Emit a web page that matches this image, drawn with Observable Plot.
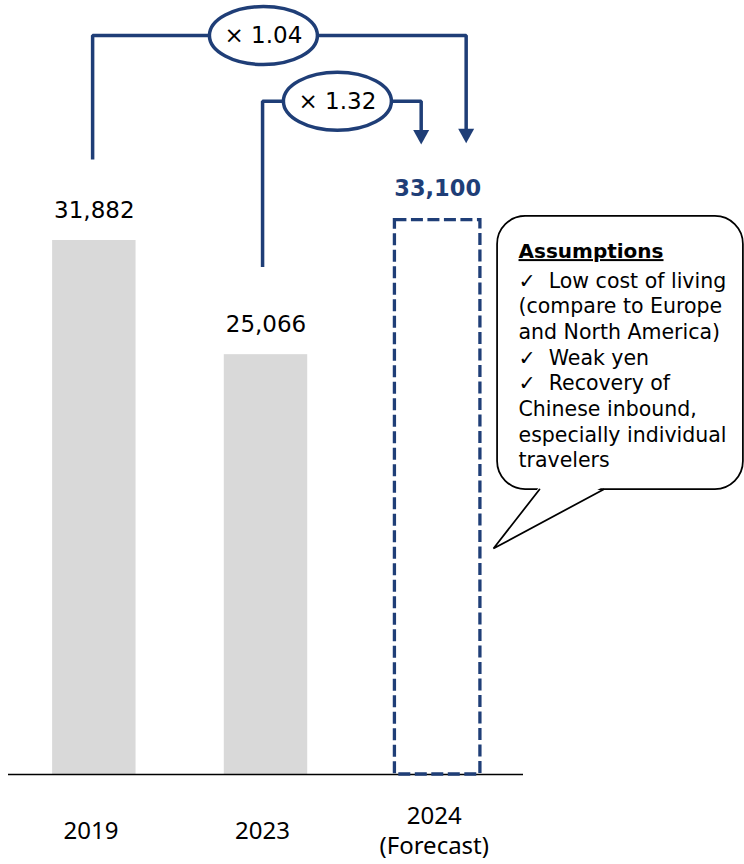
<!DOCTYPE html>
<html>
<head>
<meta charset="utf-8">
<script src="https://cdn.jsdelivr.net/npm/d3@7"></script>
<script src="https://cdn.jsdelivr.net/npm/@observablehq/plot@0.6"></script>
<style>
  html, body { margin: 0; padding: 0; background: #fff; }
  #chart svg { display: block; }
</style>
</head>
<body>
<div id="chart"></div>
<script>
// ---- data ----
const years = ["2019", "2023", "2024"];
const yearNotes = ["", "", "(Forecast)"];
const visitors = [31882, 25066, 33100];
const isForecast = [false, false, true];
const ratioLabels = ["× 1.04", "× 1.32"];
const ratioFrom = [0, 1];   // index of base year
const ratioTo = [2, 2];     // index of forecast year
const assumptionTitle = "Assumptions";
const assumptionLines = [
  "\u2713\u00a0 Low cost of living",
  "(compare to Europe",
  "and North America)",
  "\u2713\u00a0 Weak yen",
  "\u2713\u00a0 Recovery of",
  "Chinese inbound,",
  "especially individual",
  "travelers"
];

// ---- table ----
const rows = years.map((year, i) => ({
  i, year,
  label: yearNotes[i] ? year + "\n" + yearNotes[i] : year,
  value: visitors[i],
  forecast: isForecast[i]
}));
const actual = rows.filter(d => !d.forecast);
const forecast = rows.filter(d => d.forecast);

// ---- annotation layout (in data units) ----
const blue = "#1f3e77";
const barHalf = 0.243, fcHalf = 0.249;
const brackets = [
  {label: ratioLabels[0], x0: ratioFrom[0] - 0.01, x1: ratioTo[0] + 0.166, start: 36720, level: 44120, tip: 37690, cx: 0.985},
  {label: ratioLabels[1], x0: ratioFrom[1] - 0.02, x1: ratioTo[1] - 0.096, start: 30300, level: 40200, tip: 37610, cx: 1.416}
];
const bracketPts = brackets.flatMap((b, k) => [
  {k, x: b.x0, y: b.start},
  {k, x: b.x0, y: b.level},
  {k, x: b.x1, y: b.level},
  {k, x: b.x1, y: b.tip + 600}
]);
const bubble = {x1: 2.349, x2: 3.781, y1: 17016, y2: 33316};
const tailFill = [{x: 2.593, y: 17195}, {x: 2.325, y: 13493}, {x: 2.966, y: 17195}];
const tailEdge = [{x: 2.593, y: 17016}, {x: 2.325, y: 13493}, {x: 2.966, y: 17016}];
const textX = 2.471;

const ellipse = {
  draw(ctx) {
    const rx = 54, ry = 29, kx = rx * 0.5523, ky = ry * 0.5523;
    ctx.moveTo(rx, 0);
    ctx.bezierCurveTo(rx, ky, kx, ry, 0, ry);
    ctx.bezierCurveTo(-kx, ry, -rx, ky, -rx, 0);
    ctx.bezierCurveTo(-rx, -ky, -kx, -ry, 0, -ry);
    ctx.bezierCurveTo(kx, -ry, rx, -ky, rx, 0);
    ctx.closePath();
  }
};
const arrowHead = {
  draw(ctx) {
    ctx.moveTo(0, 0);
    ctx.lineTo(-8, -14.5);
    ctx.lineTo(8, -14.5);
    ctx.closePath();
  }
};

const fmt = d3.format(",");

const svg = Plot.plot({
  width: 744,
  height: 864,
  marginTop: 0,
  marginBottom: 90,
  marginLeft: 8,
  marginRight: 221,
  style: {background: "#fff", overflow: "visible"},
  x: {domain: [-0.5, 2.5], axis: null},
  y: {domain: [0, 46212], axis: null},
  marks: [
    Plot.rectY(actual, {x1: d => d.i - barHalf, x2: d => d.i + barHalf, y: "value", fill: "#d9d9d9"}),
    Plot.ruleY([0], {stroke: "#000", strokeWidth: 1.5}),
    Plot.rect(forecast, {x1: d => d.i - fcHalf, x2: d => d.i + fcHalf, y1: 0, y2: "value",
      fill: "none", stroke: blue, strokeWidth: 3.3, strokeDasharray: "12,4.5"}),
    Plot.text(actual, {x: "i", y: "value", text: d => fmt(d.value), dy: -30,
      fontFamily: "DejaVu Sans", fontSize: 23, fill: "#000"}),
    Plot.text(forecast, {x: "i", y: "value", text: d => fmt(d.value), dy: -31,
      fontFamily: "DejaVu Sans", fontSize: 22.5, fontWeight: "bold", fill: blue}),
    Plot.text(rows, {x: d => d.i - 0.02, y: 0, text: "label", dy: 55, lineAnchor: "middle", lineHeight: 1.25,
      fontFamily: "Noto Sans", fontSize: 24, fill: "#000"}),
    // ratio brackets
    Plot.line(bracketPts, {x: "x", y: "y", z: "k", stroke: blue, strokeWidth: 3.5,
      strokeLinejoin: "miter", strokeLinecap: "butt"}),
    Plot.dot(brackets, {x: "x1", y: "tip", symbol: arrowHead, fill: blue, stroke: "none"}),
    Plot.dot(brackets, {x: "cx", y: "level", symbol: ellipse, fill: "#fff", stroke: blue, strokeWidth: 3.5}),
    Plot.text(brackets, {x: "cx", y: "level", text: "label", fontFamily: "DejaVu Sans", fontSize: 23, fill: "#000"}),
    // assumptions bubble
    Plot.rect([bubble], {x1: "x1", x2: "x2", y1: "y1", y2: "y2", rx: 28, fill: "#fff", stroke: "#000", strokeWidth: 1.75}),
    Plot.line(tailFill, {x: "x", y: "y", fill: "#fff", stroke: "none"}),
    Plot.line(tailEdge, {x: "x", y: "y", stroke: "#000", strokeWidth: 1.75, strokeLinejoin: "miter"}),
    Plot.text([assumptionTitle], {x: textX, y: 31680, text: d => d, textAnchor: "start", lineAnchor: "top",
      fontFamily: "DejaVu Sans", fontSize: 20, fontWeight: "bold", fill: "#000"}),
    Plot.text([assumptionLines.join("\n")], {x: textX, y: 30145, text: d => d, textAnchor: "start", lineAnchor: "top",
      lineHeight: 1.252, fontFamily: "DejaVu Sans", fontSize: 20.5, fill: "#000"})
  ]
});

d3.select(svg).selectAll("text")
  .filter(function () { return this.textContent === assumptionTitle; })
  .attr("text-decoration", "underline");

document.getElementById("chart").appendChild(svg);
</script>
</body>
</html>
